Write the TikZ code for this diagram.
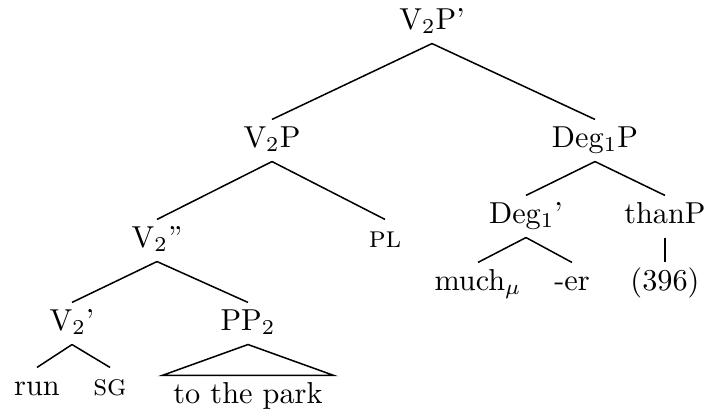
\documentclass[tikz,border=0pt]{standalone}
\usepackage{amsmath,amssymb}
\usetikzlibrary{positioning}

\begin{document}
\begin{tikzpicture}[x=0.0116cm, y=-0.0116cm,
    cat/.style={anchor=base, inner xsep=2pt, inner ysep=2.4pt, text height=6.5pt, text depth=2.2pt},
    br/.style={line width=0.5pt}]
  \useasboundingbox (0,0) rectangle (708,417);

  % top levels
  \node[cat] (vtop)  at (432,29)  {V$_2$P'};
  \node[cat] (vp)    at (272,147) {V$_2$P};
  \node[cat] (degp)  at (595,147) {Deg$_1$P};

  % left branch
  \node[cat] (vbar2) at (157,247) {V$_2$''};
  \node[cat] (pl)    at (385,247) {\textsc{pl}};
  \node[cat] (vbar1) at (72,330)  {V$_2$'};
  \node[cat] (pp)    at (248,330) {PP$_2$};
  \node[cat] (run)   at (37,395)  {run};
  \node[cat] (sg)    at (110,395) {\textsc{sg}};
  \node[cat, inner xsep=3.5pt] (park) at (248,403) {to the park};

  % right branch
  \node[cat] (degbar) at (526,223) {Deg$_1$'};
  \node[cat] (than)   at (665,223) {thanP};
  \node[cat] (much)   at (478,290) {much$_\mu$};
  \node[cat] (er)     at (572,290) {-er};
  \node[cat] (ex)     at (665,290) {(396)};

  \draw[br] (vtop.south) -- (vp.north);
  \draw[br] (vtop.south) -- (degp.north);
  \draw[br] (vp.south) -- (vbar2.north);
  \draw[br] (vp.south) -- (pl.north);
  \draw[br] (vbar2.south) -- (vbar1.north);
  \draw[br] (vbar2.south) -- (pp.north);
  \draw[br] (vbar1.south) -- (run.north);
  \draw[br] (vbar1.south) -- (sg.north);
  \draw[br] (pp.south) -- (park.north west) -- (park.north east) -- cycle;
  \draw[br] (degp.south) -- (degbar.north);
  \draw[br] (degp.south) -- (than.north);
  \draw[br] (degbar.south) -- (much.north);
  \draw[br] (degbar.south) -- (er.north);
  \draw[br] (than.south) -- (ex.north);
\end{tikzpicture}
\end{document}
